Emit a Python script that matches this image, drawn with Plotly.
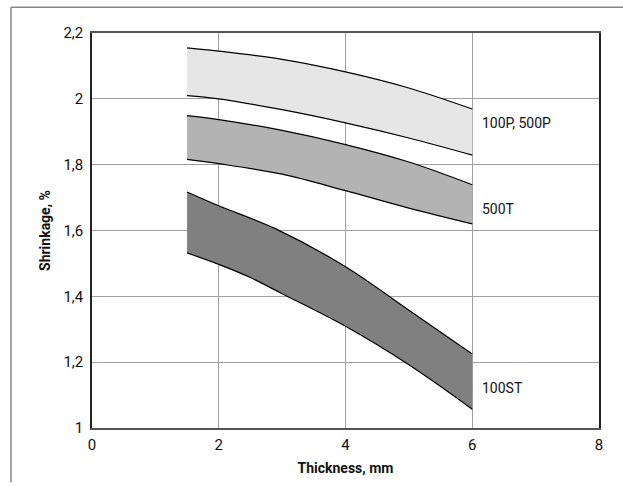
import plotly.graph_objects as go

# Thickness (mm) sample points
x_pts = [1.5, 2, 3, 4, 5, 6]

# 100P, 500P band
p_upper = [2.155, 2.145, 2.12, 2.082, 2.033, 1.969]
p_lower = [2.01, 2.0, 1.967, 1.927, 1.881, 1.829]

# 500T band
t_upper = [1.949, 1.937, 1.904, 1.861, 1.808, 1.739]
t_lower = [1.816, 1.803, 1.771, 1.721, 1.668, 1.62]

# 100ST band
st_x_upper = [1.5, 2, 2.9, 4, 5, 6]
st_upper = [1.717, 1.675, 1.605, 1.49, 1.358, 1.225]
st_x_lower = [1.5, 2, 2.5, 3, 4, 5, 6]
st_lower = [1.532, 1.497, 1.457, 1.408, 1.309, 1.192, 1.057]

band_labels = ["100P, 500P", "500T", "100ST"]
label_y = [1.927, 1.665, 1.122]
band_colors = ["#e6e6e6", "#b3b3b3", "#808080"]

x_ticks = [0, 2, 4, 6, 8]
y_ticks = [1, 1.2, 1.4, 1.6, 1.8, 2.0, 2.2]
y_ticktext = ["1", "1,2", "1,4", "1,6", "1,8", "2", "2,2"]

FONT = "Roboto, Liberation Sans, sans-serif"

fig = go.Figure()

bands = [
    (x_pts, p_lower, x_pts, p_upper, band_colors[0]),
    (x_pts, t_lower, x_pts, t_upper, band_colors[1]),
    (st_x_lower, st_lower, st_x_upper, st_upper, band_colors[2]),
]

for xl, yl, xu, yu, col in bands:
    fig.add_trace(go.Scatter(x=xl, y=yl, mode="lines",
                             line=dict(color="black", width=1.2, shape="spline", smoothing=1.0),
                             hoverinfo="skip", showlegend=False))
    fig.add_trace(go.Scatter(x=xu, y=yu, mode="lines", fill="tonexty", fillcolor=col,
                             line=dict(color="black", width=1.2, shape="spline", smoothing=1.0),
                             hoverinfo="skip", showlegend=False))

for lbl, ly in zip(band_labels, label_y):
    fig.add_annotation(x=6.12, y=ly, text=lbl, showarrow=False, xanchor="left",
                       yanchor="middle", font=dict(family=FONT, size=14, color="#111"))

# Outer frame (top and left lines)
l, r, t, b = 92, 24, 33, 55
W, H = 623, 486
pw, ph = W - l - r, H - t - b
def px(xp):
    return (xp - l) / pw
def py(yp):
    return (H - b - yp) / ph

fig.add_shape(type="line", xref="paper", yref="paper",
              x0=px(11), x1=px(623), y0=py(7), y1=py(7),
              line=dict(color="#888", width=1.5))
fig.add_shape(type="line", xref="paper", yref="paper",
              x0=px(11), x1=px(11), y0=py(7), y1=py(486),
              line=dict(color="#888", width=1.5))

fig.update_layout(
    width=W, height=H,
    margin=dict(l=l, r=r, t=t, b=b),
    plot_bgcolor="white", paper_bgcolor="white",
    font=dict(family=FONT, size=15, color="#111"),
)
fig.update_xaxes(range=[0, 8], tickvals=x_ticks, ticktext=[str(v) for v in x_ticks],
                 showgrid=True, gridcolor="#a0a0a0", gridwidth=1.2,
                 showline=True, linecolor="#555", linewidth=2, mirror=True,
                 zeroline=False, ticks="", ticklabelstandoff=2,
                 title=dict(text="<b>Thickness, mm</b>", font=dict(family=FONT, size=14), standoff=10),
                 tickfont=dict(family=FONT, size=15))
fig.update_yaxes(range=[1, 2.2], tickvals=y_ticks, ticktext=y_ticktext,
                 showgrid=True, gridcolor="#a0a0a0", gridwidth=1.2,
                 showline=True, linecolor="#222", linewidth=1.5, mirror=True,
                 zeroline=False, ticks="", ticklabelstandoff=4,
                 title=dict(text="<b>Shrinkage, %</b>", font=dict(family=FONT, size=14), standoff=10),
                 tickfont=dict(family=FONT, size=15))

fig.write_html("out.html", config={"displayModeBar": False},
               post_script="document.body.style.margin='0';document.body.style.overflow='hidden';")
